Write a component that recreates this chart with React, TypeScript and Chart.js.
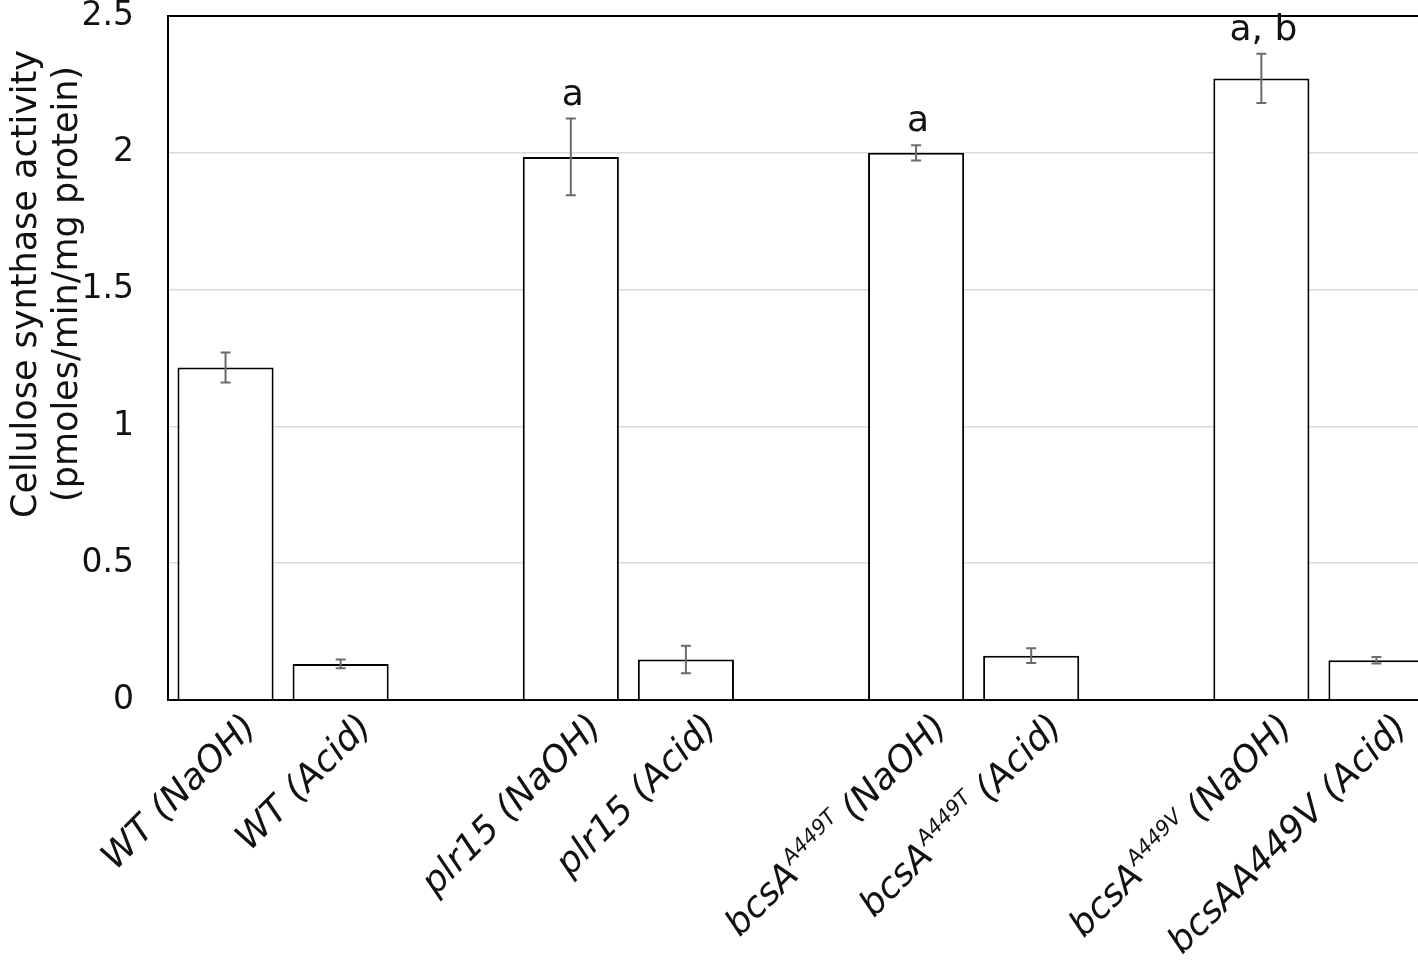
import React, { useEffect, useRef } from "react";
import { Chart, registerables } from "chart.js";

Chart.register(...registerables);

// ---- data ----
const labelBase = ["WT", "WT", "", "plr15", "plr15", "", "bcsA", "bcsA", "", "bcsA", "bcsAA449V"];
const labelSup = ["", "", "", "", "", "", "A449T", "A449T", "", "A449V", ""];
const labelTail = [" (NaOH)", " (Acid)", "", " (NaOH)", " (Acid)", "", " (NaOH)", " (Acid)", "", " (NaOH)", " (Acid)"];
const categories = labelBase.map((b, i) => b + labelSup[i] + labelTail[i]);

const activity: (number | null)[] = [1.215, 0.132, null, 1.985, 0.148, null, 2.0, 0.162, null, 2.272, 0.145];
const errors: (number | null)[] = [0.055, 0.016, null, 0.14, 0.05, null, 0.028, 0.027, null, 0.09, 0.012];
const significance = ["", "", "", "a", "", "", "a", "", "", "a, b", ""];

const yTicks = [0, 0.5, 1, 1.5, 2, 2.5];
const yTickLabels = ["0", "0.5", "1", "1.5", "2", "2.5"];
const yTitle = ["Cellulose synthase activity", "(pmoles/min/mg protein)"];

const FONT = "'DejaVu Sans', 'Liberation Sans', sans-serif";
const CANVAS_W = 1440;
const CANVAS_H = 973;

const overlay = {
  id: "overlay",
  afterDatasetsDraw(chart: any) {
    const ctx: CanvasRenderingContext2D = chart.ctx;
    const xs = chart.scales.x;
    const ys = chart.scales.y;
    ctx.save();
    // error bars
    ctx.strokeStyle = "#6b6b6b";
    ctx.lineWidth = 2;
    activity.forEach((v, i) => {
      const e = errors[i];
      if (v == null || e == null) return;
      const cx = xs.getPixelForValue(i);
      const t = ys.getPixelForValue(v + e);
      const b = ys.getPixelForValue(v - e);
      ctx.beginPath();
      ctx.moveTo(cx, t);
      ctx.lineTo(cx, b);
      ctx.moveTo(cx - 5, t);
      ctx.lineTo(cx + 5, t);
      ctx.moveTo(cx - 5, b);
      ctx.lineTo(cx + 5, b);
      ctx.stroke();
    });
    // significance letters
    ctx.fillStyle = "#111";
    ctx.font = `36px ${FONT}`;
    ctx.textAlign = "center";
    ctx.textBaseline = "alphabetic";
    significance.forEach((s, i) => {
      const v = activity[i];
      const e = errors[i];
      if (!s || v == null || e == null) return;
      const cx = xs.getPixelForValue(i);
      const t = ys.getPixelForValue(v + e);
      ctx.fillText(s, cx + 2, t - 14);
    });
    ctx.restore();
  },
  afterDraw(chart: any) {
    const ctx: CanvasRenderingContext2D = chart.ctx;
    const xs = chart.scales.x;
    const area = chart.chartArea;
    ctx.save();
    ctx.fillStyle = "#111";
    // x labels (rotated, italic, with superscripts)
    const mainFont = `italic 36px ${FONT}`;
    const supFont = `italic 21px ${FONT}`;
    categories.forEach((c, i) => {
      if (!c) return;
      const cx = xs.getPixelForValue(i);
      ctx.save();
      ctx.translate(cx + 24, area.bottom + 20);
      ctx.rotate(-Math.PI / 4);
      ctx.textAlign = "left";
      ctx.textBaseline = "alphabetic";
      ctx.font = mainFont;
      const wBase = ctx.measureText(labelBase[i]).width;
      const tail = labelSup[i] ? labelTail[i].trimStart() : labelTail[i];
      const wTail = ctx.measureText(tail).width;
      ctx.font = supFont;
      const wSup = labelSup[i] ? ctx.measureText(labelSup[i]).width + 10 : 0;
      const total = wBase + wSup + wTail;
      let x0 = -total;
      const base = 12;
      ctx.font = mainFont;
      ctx.fillText(labelBase[i], x0, base);
      x0 += wBase;
      if (labelSup[i]) {
        ctx.font = supFont;
        ctx.fillText(labelSup[i], x0 + 1, base - 15);
        x0 += wSup;
      }
      ctx.font = mainFont;
      ctx.fillText(tail, x0, base);
      ctx.restore();
    });
    // y title
    ctx.save();
    ctx.translate(0, 284);
    ctx.rotate(-Math.PI / 2);
    ctx.font = `35px ${FONT}`;
    ctx.textAlign = "center";
    ctx.textBaseline = "alphabetic";
    ctx.fillText(yTitle[0], 0, 36);
    ctx.fillText(yTitle[1], 0, 77);
    ctx.restore();
    ctx.restore();
  },
};

export default function App() {
  const ref = useRef<HTMLCanvasElement>(null);
  useEffect(() => {
    if (!ref.current) return;
    const chart = new Chart(ref.current, {
      type: "bar",
      data: {
        labels: categories,
        datasets: [
          {
            data: activity as any,
            backgroundColor: "#ffffff",
            borderColor: "#000000",
            borderWidth: 2,
            categoryPercentage: 1,
            barPercentage: 0.835,
          },
        ],
      },
      options: {
        animation: false,
        responsive: false,
        devicePixelRatio: 1,
        layout: { padding: { top: 16, right: CANVAS_W - 1434, left: 0, bottom: 0 } },
        plugins: { legend: { display: false }, tooltip: { enabled: false }, title: { display: false } },
        scales: {
          x: {
            ticks: { display: false },
            grid: { display: false, drawTicks: false },
            border: { display: true, color: "#000", width: 2 },
            afterFit: (s: any) => {
              s.height = CANVAS_H - 700;
              s.paddingLeft = 0;
              s.paddingRight = 0;
            },
          },
          y: {
            min: 0,
            max: 2.5,
            afterBuildTicks: (s: any) => {
              s.ticks = yTicks.map((v) => ({ value: v }));
            },
            ticks: {
              font: { family: FONT, size: 33 },
              color: "#111",
              padding: 34,
              callback: (_v: any, idx: number) => yTickLabels[idx],
            },
            grid: {
              drawTicks: false,
              color: (c: any) => (c.tick && c.tick.value === 2.5 ? "#000" : c.tick && c.tick.value === 0 ? "rgba(0,0,0,0)" : "#d9d9d9"),
              lineWidth: (c: any) => (c.tick && c.tick.value === 2.5 ? 2 : 1.5),
            },
            border: { display: true, color: "#000", width: 2 },
            afterFit: (s: any) => {
              s.width = 168;
              s.paddingTop = 0;
              s.paddingBottom = 0;
            },
          },
        },
      },
      plugins: [overlay],
    });
    return () => chart.destroy();
  }, []);
  return (
    <div
      style={{
        position: "absolute",
        left: 0,
        top: 0,
        width: 1418,
        height: CANVAS_H,
        overflow: "hidden",
        background: "#fff",
      }}
    >
      <canvas ref={ref} width={CANVAS_W} height={CANVAS_H} style={{ width: CANVAS_W, height: CANVAS_H, display: "block" }} />
    </div>
  );
}
